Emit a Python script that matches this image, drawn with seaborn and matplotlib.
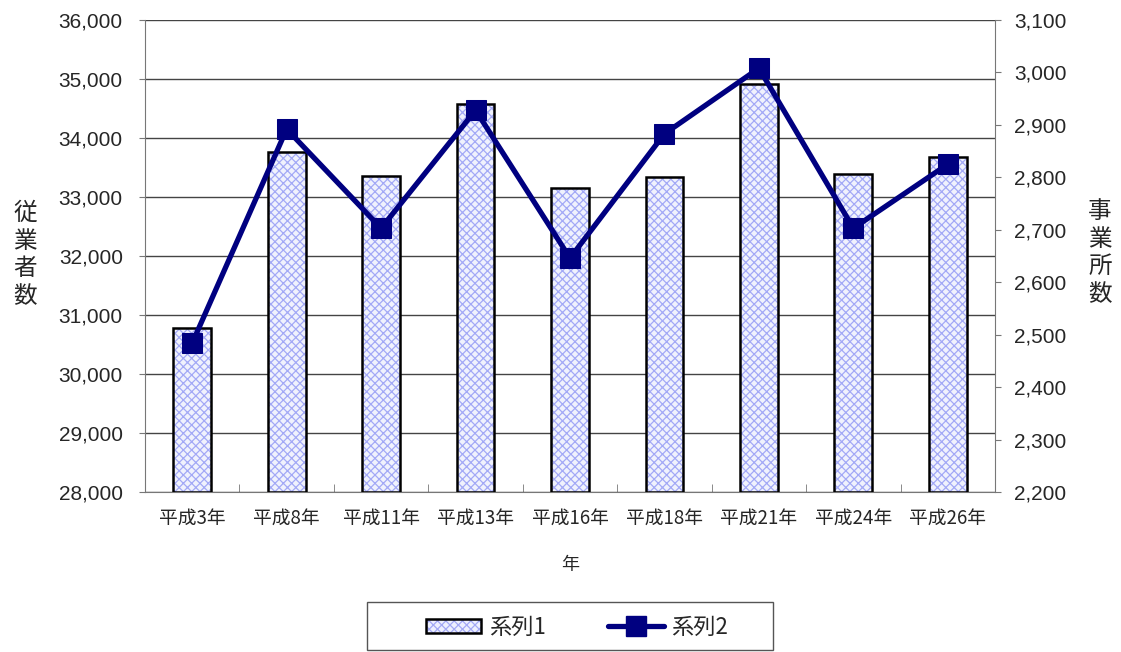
import matplotlib
matplotlib.use("Agg")
import matplotlib.pyplot as plt
import seaborn as sns
import pandas as pd
from matplotlib.patches import Patch, Rectangle
from matplotlib.lines import Line2D
from matplotlib.legend_handler import HandlerTuple

# data
years = ["平成3年", "平成8年", "平成11年", "平成13年", "平成16年",
         "平成18年", "平成21年", "平成24年", "平成26年"]
employees = [30780, 33760, 33360, 34580, 33160, 33340, 34920, 33390, 33680]
establishments = [2484, 2892, 2703, 2928, 2646, 2883, 3008, 2703, 2825]

sns.set_style("white")
plt.rcParams["font.family"] = ["Noto Sans CJK JP", "DejaVu Sans"]
plt.rcParams["hatch.linewidth"] = 0.9

df = pd.DataFrame({"year": years, "emp": employees, "est": establishments})
W, H = 1121, 652
bar_face, hatch_col = "#eef0ff", "#a3a9f6"

fig = plt.figure(figsize=(W / 100, H / 100), dpi=100)
ax = fig.add_axes([145 / W, 1 - 492 / H, 850 / W, 472 / H])

# bars: hatched light-blue fill, then black outline on top
sns.barplot(data=df, x="year", y="emp", ax=ax, width=0.4, color=bar_face,
            hatch="xxxx", edgecolor=hatch_col, linewidth=0, zorder=2)
for p in list(ax.patches):
    x, w = p.get_x(), p.get_width()
    ax.bar(x + w / 2, p.get_height() - 28000, bottom=28000, width=w,
           facecolor="none", edgecolor="black", linewidth=1.8, zorder=3)

num_font = "Liberation Sans"
ax.set_ylim(28000, 36000)
ax.set_xlim(-0.5, 8.5)
ax.set_yticks(range(28000, 36001, 1000))
ax.set_yticklabels([f"{v:,}" for v in range(28000, 36001, 1000)],
                   fontsize=15, fontfamily=num_font)
ax.set_xticks(range(len(years)))
ax.set_xticklabels(years, fontsize=13.5)
ax.set_xticks([i + 0.5 for i in range(-1, len(years))], minor=True)
ax.yaxis.grid(True, color="#444444", linewidth=1.0, zorder=0)
ax.set_axisbelow(True)
ax.tick_params(axis="y", direction="out", length=4, color="#777777", left=True, pad=12)
ax.tick_params(axis="x", which="major", length=0, pad=11)
ax.tick_params(axis="x", which="minor", direction="in", length=6,
               color="#777777", bottom=True)
for s in ["top", "right"]:
    ax.spines[s].set_visible(False)
ax.spines["left"].set_color("#777777")
ax.spines["bottom"].set_color("#777777")
ax.set_xlabel("年", fontsize=13, labelpad=20)
ax.set_ylabel("")
fig.text(25 / W, 1 - 255 / H, "従\n業\n者\n数", fontsize=17, ha="center",
         va="center", linespacing=1.25)

ax2 = ax.twinx()
sns.lineplot(data=df, x="year", y="est", ax=ax2, color="#000080", linewidth=3.8,
             marker="s", markersize=14, markeredgecolor="#000080", zorder=4)
ax2.set_ylim(2200, 3100)
ax2.set_yticks(range(2200, 3101, 100))
ax2.set_yticklabels([f"{v:,}" for v in range(2200, 3101, 100)],
                    fontsize=15, fontfamily=num_font)
ax2.tick_params(axis="y", direction="out", length=4, color="#777777",
                right=True, pad=10)
for s in ["top", "left", "bottom"]:
    ax2.spines[s].set_visible(False)
ax2.spines["right"].set_color("#777777")
ax2.set_ylabel("")
ax2.set_xlabel("")
fig.text(1100 / W, 1 - 253 / H, "事\n業\n所\n数", fontsize=17, ha="center",
         va="center", linespacing=1.25)

# legend box drawn by hand so it can be as wide as the reference
fig.patches.append(Rectangle((367 / W, 1 - 650 / H), 406 / W, 48 / H,
                             transform=fig.transFigure, facecolor="white",
                             edgecolor="#555555", linewidth=1.0))
bar_handle = (Patch(facecolor=bar_face, edgecolor=hatch_col, linewidth=0,
                    hatch="xxxx"),
              Patch(facecolor="none", edgecolor="black", linewidth=1.8))
line_handle = Line2D([0], [0], color="#000080", linewidth=3.8, marker="s",
                     markersize=14)
fig.legend([bar_handle, line_handle], ["系列1", "系列2"], loc="center",
           bbox_to_anchor=(577 / W, 1 - 627 / H), ncol=2, frameon=False,
           fontsize=16, handlelength=2.5, handleheight=0.6,
           columnspacing=2.8, handletextpad=0.35,
           handler_map={tuple: HandlerTuple(ndivide=1, pad=0)})

fig.savefig("out.png", dpi=100)
